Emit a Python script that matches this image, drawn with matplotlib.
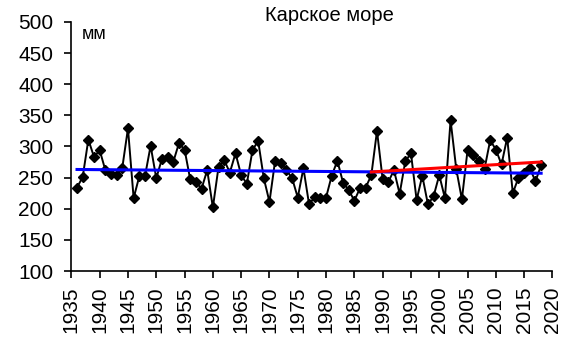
import matplotlib
matplotlib.use("Agg")
import matplotlib.pyplot as plt

plt.rcParams["font.family"] = ["Liberation Sans", "DejaVu Sans"]

# Annual mean sea level, Kara Sea station series (mm)
years = list(range(1936, 2019))
level_mm = [
    234, 251, 311, 283, 294, 262, 256, 254, 266, 329,
    217, 252, 252, 301, 249, 280, 283, 275, 305, 295,
    247, 243, 232, 262, 202, 267, 278, 258, 289, 254,
    240, 294, 309, 249, 211, 277, 274, 262, 249, 218,
    265, 207, 219, 218, 218, 253, 277, 242, 230, 213,
    233, 234, 254, 325, 247, 243, 262, 224, 276, 289,
    214, 253, 207, 220, 254, 217, 342, 264, 215, 294,
    286, 277, 264, 310, 295, 271, 314, 225, 250, 257,
    265, 244, 270,
]

# Linear trends: whole record and the recent period
trend_all_years = [1936, 2018]
trend_all_mm = [263, 257]
trend_recent_years = [1988, 2018]
trend_recent_mm = [259, 275]

x_ticks = list(range(1935, 2021, 5))
y_ticks = list(range(100, 501, 50))

fig = plt.figure(figsize=(5.62, 3.47), dpi=100)
ax = fig.add_axes([0.127, 0.219, 0.856, 0.718])

ax.plot(years, level_mm, color="black", linewidth=1.4, marker="D",
        markersize=5.2, markerfacecolor="black", markeredgecolor="black", zorder=2)
ax.plot(trend_all_years, trend_all_mm, color="#0000ff", linewidth=2.2, zorder=3)
ax.plot(trend_recent_years, trend_recent_mm, color="#ff0000", linewidth=2.2, zorder=3)

ax.set_xlim(1935, 2020)
ax.set_ylim(100, 500)
ax.set_xticks(x_ticks)
ax.set_yticks(y_ticks)
ax.set_xticklabels([str(y) for y in x_ticks], rotation=90)

for side in ("top", "right"):
    ax.spines[side].set_visible(False)
for side in ("left", "bottom"):
    ax.spines[side].set_linewidth(1.2)
ax.tick_params(axis="both", direction="out", length=5, width=1.2, labelsize=15)
ax.tick_params(axis="y", pad=8)
ax.tick_params(axis="x", pad=6)

fig.text(0.587, 0.955, "Карское море", ha="center", va="center", fontsize=14.5)
fig.text(0.146, 0.900, "мм", ha="left", va="center", fontsize=13)

fig.savefig("out.png", dpi=100)
